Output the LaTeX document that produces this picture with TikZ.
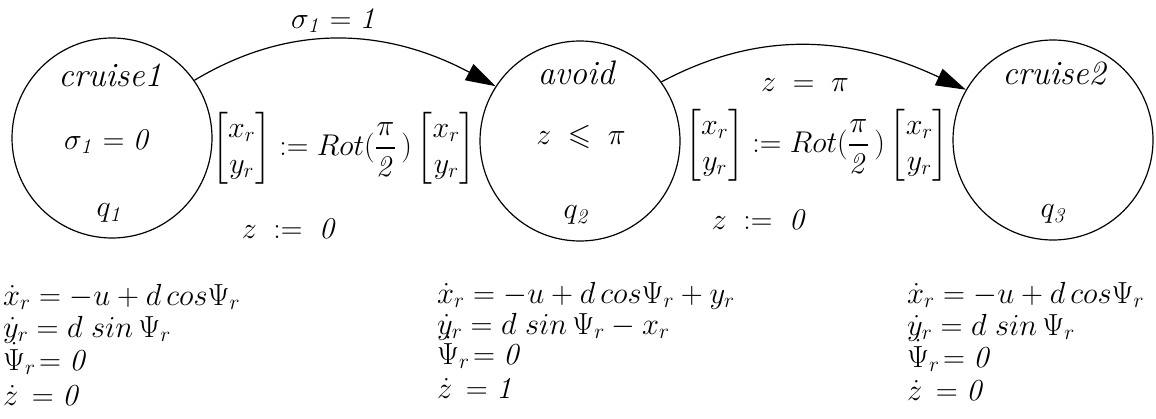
\RequirePackage{fix-cm}
\documentclass[tikz,border=0pt]{standalone}
\usepackage{amsmath,amssymb}
\usetikzlibrary{arrows.meta}
\tikzset{
  mystate/.style={circle, draw, line width=1.2pt, minimum size=200pt, inner sep=0pt},
  lbl/.style={inner sep=0pt, font=\fontsize{30}{36}\selectfont},
  statename/.style={inner sep=0pt, font=\fontsize{34}{40}\selectfont\itshape},
  eqn/.style={inner sep=0pt, anchor=base west, font=\fontsize{30.5}{32}\selectfont},
  trans/.style={line width=1.2pt, -{Triangle[length=30pt,width=18pt]}},
}
\begin{document}
\begin{tikzpicture}[x=1pt,y=-1pt]
\useasboundingbox (0,0) rectangle (1156,418);
% states
\node[mystate] (q1) at (112,138) {};
\node[mystate] (q2) at (580,141) {};
\node[mystate] (q3) at (1053,140) {};
% state texts
\node[statename] (n1) at (110,75) {cruise1};
\node[lbl] (i1) at (108,142) {$\sigma_{\mathit{1}} = \mathit{0}$};
\node[lbl] (l1) at (110,213) {$q_{\mathit{1}}$};
\node[statename] (n2) at (576,73) {avoid};
\node[lbl] (i2) at (581,137) {$z \;\leqslant\; \pi$};
\node[lbl] (l2) at (577,215) {$q_{\mathit{2}}$};
\node[statename] (n3) at (1054,74) {cruise2};
\node[lbl] (l3) at (1054,214) {$q_{\mathit{3}}$};
% transitions
\draw[trans] (q1.35) to[out=31, in=152] (q2.147);
\draw[trans] (q2.36) to[out=28, in=155] (q3.150);
% transition labels
\node[lbl] (g1) at (335,21) {$\sigma_{\mathit{1}} = \mathit{1}$};
\node[lbl] (r1) at (344,148) {$\begin{bmatrix}x_r\\ y_r\end{bmatrix}\mathrel{:=}Rot(\dfrac{\pi}{\mathit{2}}\,)\begin{bmatrix}x_r\\ y_r\end{bmatrix}$};
\node[lbl] (z1) at (290,229) {$z \;\mathrel{:=}\; \mathit{0}$};
\node[lbl] (g2) at (805,85) {$z \;=\; \pi$};
\node[lbl] (r2) at (817,145) {$\begin{bmatrix}x_r\\ y_r\end{bmatrix}\mathrel{:=}Rot(\dfrac{\pi}{\mathit{2}}\,)\begin{bmatrix}x_r\\ y_r\end{bmatrix}$};
\node[lbl] (z2) at (760,220) {$z \;\mathrel{:=}\; \mathit{0}$};
% flows
\node[eqn] (a1) at (3,305) {$\dot{x}_r = -u + d\, cos\Psi_r$};
\node[eqn] (a2) at (3,337) {$\dot{y}_r = d\; sin\,\Psi_r$};
\node[eqn] (a3) at (3,370) {$\dot{\Psi}_r\!= \mathit{0}$};
\node[eqn] (a4) at (3,405) {$\dot{z} \,= \mathit{0}$};
\node[eqn] (b1) at (437,303) {$\dot{x}_r = -u + d\, cos\Psi_r + y_r$};
\node[eqn] (b2) at (437,334) {$\dot{y}_r = d\; sin\,\Psi_r - x_r$};
\node[eqn] (b3) at (437,364) {$\dot{\Psi}_r\!= \mathit{0}$};
\node[eqn] (b4) at (437,398) {$\dot{z} \,= \mathit{1}$};
\node[eqn] (c1) at (907,303) {$\dot{x}_r = -u + d\, cos\Psi_r$};
\node[eqn] (c2) at (907,335) {$\dot{y}_r = d\; sin\,\Psi_r$};
\node[eqn] (c3) at (907,367) {$\dot{\Psi}_r\!= \mathit{0}$};
\node[eqn] (c4) at (907,400) {$\dot{z} \,= \mathit{0}$};
\end{tikzpicture}
\end{document}
